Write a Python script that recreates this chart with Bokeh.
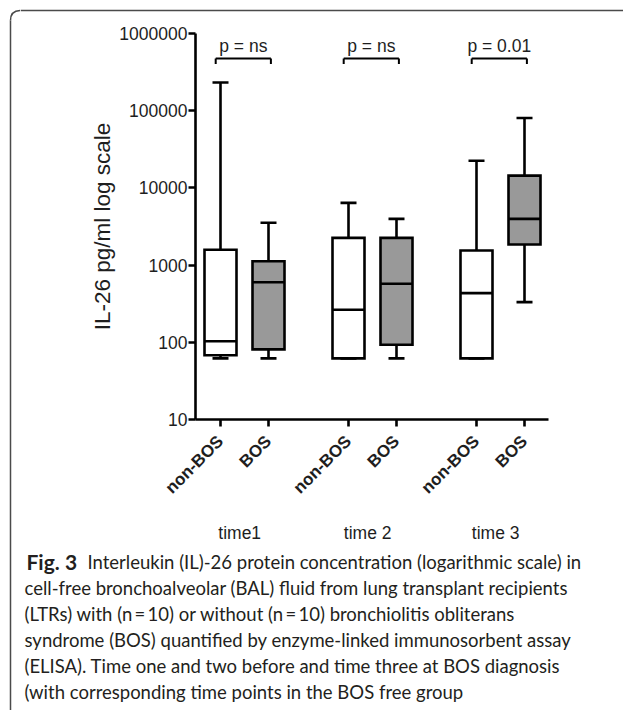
import math
from bokeh.plotting import figure
from bokeh.layouts import row, column
from bokeh.models import FixedTicker, Label, Range1d
from bokeh.core.properties import value
from bokeh.embed import file_html
from bokeh.resources import INLINE

# ---------------- data ----------------
GROUPS = ["time1", "time 2", "time 3"]
CONDITIONS = ["non-BOS", "BOS"]
WHISK_LOW = [62, 62, 62, 62, 62, 331]
Q1 = [68, 81, 62, 93, 62, 1850]
MEDIAN = [103, 600, 264, 573, 433, 3970]
Q3 = [1580, 1120, 2250, 2250, 1545, 14400]
WHISK_HIGH = [232000, 3530, 6400, 3970, 22500, 80500]
P_VALUES = ["p = ns", "p = ns", "p = 0.01"]
YTICKS = [10, 100, 1000, 10000, 100000, 1000000]
YTICK_LABELS = ["10", "100", "1000", "10000", "100000", "1000000"]
Y_LABEL = "IL-26 pg/ml log scale"
CAPTION_BOLD = "Fig. 3"
CAPTION_FIRST = "Interleukin (IL)-26 protein concentration (logarithmic scale) in"
CAPTION_LINES = [
    "cell-free bronchoalveolar (BAL) fluid from lung transplant recipients",
    "(LTRs) with (n\u2009=\u200910) or without (n\u2009=\u200910) bronchiolitis obliterans",
    "syndrome (BOS) quantified by enzyme-linked immunosorbent assay",
    "(ELISA). Time one and two before and time three at BOS diagnosis",
    "(with corresponding time points in the BOS free group",
]

# ---------------- layout ----------------
W, H = 623, 710
STRIP_W, TOP_H, MAIN_H = 20, 20, 500
GROUP_STEP = 8
PAIR_STEP = 3
BOX_W = 2
CAP_W = 1
xs = [g * GROUP_STEP + j * PAIR_STEP for g in range(len(GROUPS)) for j in range(len(CONDITIONS))]
fills = ["white", "#999999"] * len(GROUPS)

FL, FR, FT, FB = 195, 548, 33, 419  # frame edges on the page
X0, X1 = -1.5625, 20.5
FONT = "Liberation Sans"
CAP_FONT = "Lato"
INK = "#1e1e1e"
CAP_COLOR = "#231f20"
BORDER = "#4a4a4a"


def page_x(x):  # data x -> page pixel x
    return FL + (x - X0) * (FR - FL) / (X1 - X0)


def dy(py):  # page pixel y -> data y on the log axis
    return 10 ** (6 - (py - FT) * 5.0 / (FB - FT))


def pixel_fig(w, h, x_start, y_start):
    f = figure(width=w, height=h, x_range=Range1d(x_start, x_start + w),
               y_range=Range1d(y_start + h, y_start), output_backend="svg",
               toolbar_location=None, title=None, x_axis_location=None,
               y_axis_location=None, min_border=0)
    f.outline_line_color = None
    f.xgrid.visible = False
    f.ygrid.visible = False
    return f


# ---- main plot ----
p = figure(width=W - STRIP_W, height=MAIN_H, y_axis_type="log",
           x_range=Range1d(X0, X1), y_range=Range1d(10, 1e6),
           output_backend="svg", toolbar_location=None, title=None,
           min_border_left=FL - STRIP_W, min_border_right=W - FR,
           min_border_top=FT - TOP_H, min_border_bottom=TOP_H + MAIN_H - FB)
p.outline_line_color = None
p.xgrid.visible = False
p.ygrid.visible = False

lw = 2.6
p.segment(x0=xs, x1=xs, y0=WHISK_LOW, y1=Q1, line_color="black", line_width=lw)
p.segment(x0=xs, x1=xs, y0=Q3, y1=WHISK_HIGH, line_color="black", line_width=lw)
p.segment(x0=[x - CAP_W / 2 for x in xs], x1=[x + CAP_W / 2 for x in xs],
          y0=WHISK_LOW, y1=WHISK_LOW, line_color="black", line_width=lw)
p.segment(x0=[x - CAP_W / 2 for x in xs], x1=[x + CAP_W / 2 for x in xs],
          y0=WHISK_HIGH, y1=WHISK_HIGH, line_color="black", line_width=lw)
p.vbar(x=xs, width=BOX_W, bottom=Q1, top=Q3, fill_color=fills,
       line_color="black", line_width=lw, line_join="miter")
p.segment(x0=[x - BOX_W / 2 for x in xs], x1=[x + BOX_W / 2 for x in xs],
          y0=MEDIAN, y1=MEDIAN, line_color="black", line_width=lw)

# significance brackets
BR_Y, BR_TICK = dy(58), dy(63.5)
bl = [g * GROUP_STEP - 0.3 for g in range(len(GROUPS))]
br = [g * GROUP_STEP + PAIR_STEP + 0.15 for g in range(len(GROUPS))]
p.segment(x0=bl, x1=br, y0=[BR_Y] * 3, y1=[BR_Y] * 3, line_color="black", line_width=2)
p.segment(x0=bl + br, x1=bl + br, y0=[BR_Y] * 6, y1=[BR_TICK] * 6, line_color="black", line_width=2)
for g, txt in enumerate(P_VALUES):
    p.add_layout(Label(x=(bl[g] + br[g]) / 2, y=dy(45), text=txt, text_align="center",
                       text_baseline="middle", text_font=FONT, text_font_size="17.5px",
                       text_color=INK))

for ax in (p.xaxis[0], p.yaxis[0]):
    ax.axis_line_width = lw
    ax.axis_line_color = "black"
    ax.major_tick_line_width = lw
    ax.major_tick_line_color = "black"
    ax.major_tick_out = 7
    ax.major_tick_in = 0
    ax.minor_tick_line_color = None
    ax.major_label_text_font = FONT
    ax.major_label_text_color = INK

p.yaxis.ticker = FixedTicker(ticks=YTICKS)
p.yaxis.major_label_overrides = {t: l for t, l in zip(YTICKS, YTICK_LABELS)}
p.yaxis.major_label_text_font_size = "17.5px"
p.yaxis.major_label_standoff = 1
p.yaxis.axis_label = Y_LABEL
p.yaxis.axis_label_text_font = FONT
p.yaxis.axis_label_text_font_style = "normal"
p.yaxis.axis_label_text_font_size = "22.5px"
p.yaxis.axis_label_text_color = INK
p.yaxis.axis_label_standoff = 1

p.xaxis.ticker = FixedTicker(ticks=xs)
p.xaxis.major_label_overrides = {x: CONDITIONS[i % 2] for i, x in enumerate(xs)}
p.xaxis.major_label_orientation = math.pi / 4
p.xaxis.major_label_text_font_style = "bold"
p.xaxis.major_label_text_font_size = "17px"
p.xaxis.major_label_standoff = 12

# ---- frame pieces (rounded border) ----
left = pixel_fig(STRIP_W, H, 0, 0)
left.segment(x0=10, y0=20, x1=10, y1=H, line_color=BORDER, line_width=1.5)
left.quadratic(x0=10, y0=20, x1=20, y1=10, cx=10, cy=10, line_color=BORDER, line_width=1.5)
top = pixel_fig(W - STRIP_W, TOP_H, STRIP_W, 0)
top.segment(x0=STRIP_W, y0=10, x1=W, y1=10, line_color=BORDER, line_width=1.5)

# ---- group labels and caption ----
cap = pixel_fig(W - STRIP_W, H - TOP_H - MAIN_H, STRIP_W, TOP_H + MAIN_H)
cap.text(x=[page_x(g * GROUP_STEP + 1.2) for g in range(len(GROUPS))], y=[532] * 3,
         text=GROUPS, text_align="center", text_baseline="middle",
         text_font=value(FONT), text_font_size="17.5px", text_color=INK)
cap.text(x=[26], y=[561], text=[CAPTION_BOLD], text_font=value(CAP_FONT),
         text_font_style="bold", text_font_size="21px", text_baseline="middle",
         text_color=CAP_COLOR)
cap.text(x=[87], y=[561], text=[CAPTION_FIRST], text_font=value(CAP_FONT),
         text_font_size="18.5px", text_baseline="middle", text_color=CAP_COLOR)
cap.text(x=[24] * len(CAPTION_LINES), y=[587 + 26 * i for i in range(len(CAPTION_LINES))],
         text=CAPTION_LINES, text_font=value(CAP_FONT), text_font_size="18.5px",
         text_baseline="middle", text_color=CAP_COLOR)

layout = row(left, column(column(top), column(p), column(cap)))
open("out.html", "w").write(file_html(layout, INLINE))
